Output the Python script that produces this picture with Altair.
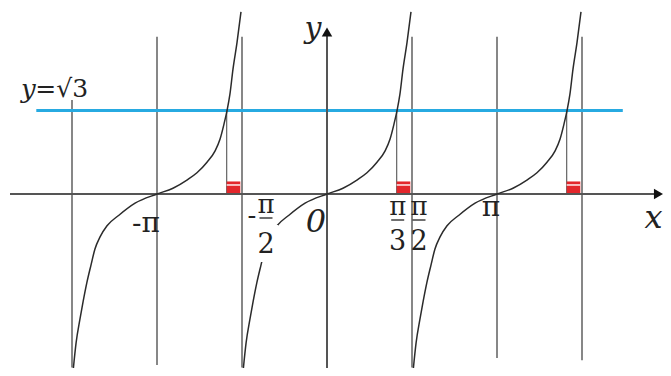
import altair as alt
import pandas as pd

# ---- data (x in units of pi, y in function units) ----
branch_centers = [-1, 0, 1]
branch_dx = [-0.494, -0.476, -0.453, -0.435, -0.412, -0.388, -0.365, -0.335, -0.294, -0.224, -0.129, 0.0,
             0.094, 0.176, 0.235, 0.294, 0.341, 0.371, 0.394, 0.412, 0.429, 0.447, 0.471, 0.494]
branch_y = [-3.69, -3.09, -2.59, -2.24, -1.83, -1.47, -1.14, -0.89, -0.66, -0.44, -0.19, 0.0,
            0.12, 0.29, 0.44, 0.66, 0.89, 1.14, 1.45, 1.73, 2.07, 2.59, 3.15, 3.78]
guide_x = [-1.5, -1, -0.5, 0.5, 1, 1.5]
guide_top = [1.95, 3.26, 3.26, 3.26, 3.26, 3.26]
guide_bottom = [-3.6, -3.55, -3.6, -3.6, -3.4, -3.45]
sqrt3 = 1.732
line_x_start, line_x_end = -1.71, 1.74
solution_x = [-0.59, 0.41, 1.41]
marker_width = 0.08
marker_height = 0.26

# ---- geometry (pixels) ----
W, H = 655, 360
PX_X = 170.0   # px per pi
PX_Y = 48.2    # px per unit
X0_PAGE, Y0_PAGE = 327 - 8, 194 - 8
x_dom = [-X0_PAGE / PX_X, (W - X0_PAGE) / PX_X]
y_dom = [-(H - Y0_PAGE) / PX_Y, Y0_PAGE / PX_Y]
xs = alt.Scale(domain=x_dom, nice=False, zero=False)
ys = alt.Scale(domain=y_dom, nice=False, zero=False)
FONT = "DejaVu Serif"
TXT = "#222222"


def X(f="x"):
    return alt.X(f"{f}:Q", scale=xs, axis=None)


def Y(f="y"):
    return alt.Y(f"{f}:Q", scale=ys, axis=None)


rows = []
for c in branch_centers:
    for i, (dx, y) in enumerate(zip(branch_dx, branch_y)):
        rows.append({"branch": str(c), "i": i, "x": c + dx, "y": y})
curve_df = pd.DataFrame(rows)

guides_df = pd.DataFrame({"x": guide_x, "y": guide_bottom, "y2": guide_top})
guides = alt.Chart(guides_df).mark_rule(color="#7a7a7a", strokeWidth=1.8).encode(
    x=X(), y=Y(), y2="y2:Q")

blue_df = pd.DataFrame({"x": [line_x_start], "x2": [line_x_end], "y": [sqrt3]})
blue = alt.Chart(blue_df).mark_rule(color="#27aae1", strokeWidth=3).encode(
    x=X(), x2="x2:Q", y=Y())

sol_df = pd.DataFrame({"x": solution_x, "y": [0] * 3, "y2": [sqrt3] * 3})
sol = alt.Chart(sol_df).mark_rule(color="#555555", strokeWidth=1.1).encode(
    x=X(), y=Y(), y2="y2:Q")

mk_df = pd.DataFrame({"x": solution_x, "x2": [s + marker_width for s in solution_x],
                      "y": [0] * 3, "y2": [marker_height] * 3,
                      "ys": [marker_height * 0.72] * 3})
marker = alt.Chart(mk_df).mark_rect(color="#e3262b").encode(
    x=X(), x2="x2:Q", y=Y(), y2="y2:Q")
stripe = alt.Chart(mk_df).mark_rule(color="#fbe3e3", strokeWidth=1.6).encode(
    x=X(), x2="x2:Q", y=Y("ys"))

xaxis_df = pd.DataFrame({"x": [x_dom[0] + 2 / PX_X], "x2": [1.94], "y": [0]})
xaxis = alt.Chart(xaxis_df).mark_rule(color="#555555", strokeWidth=2).encode(
    x=X(), x2="x2:Q", y=Y())
yaxis_df = pd.DataFrame({"x": [0], "y": [y_dom[0]], "y2": [3.3]})
yaxis = alt.Chart(yaxis_df).mark_rule(color="#555555", strokeWidth=2).encode(
    x=X(), y=Y(), y2="y2:Q")

curves = alt.Chart(curve_df).mark_line(color="#2b2b2b", strokeWidth=1.5, interpolate="monotone").encode(
    x=X(), y=Y(), detail="branch:N", order="i:Q")

# white backing under the -pi/2 label (the curve is interrupted there)
bg_df = pd.DataFrame({"x": [-0.5 + 16 / PX_X], "x2": [-0.5 + 36 / PX_X],
                      "y": [-31 / PX_Y], "y2": [-68 / PX_Y]})
bg = alt.Chart(bg_df).mark_rect(color="white").encode(x=X(), x2="x2:Q", y=Y(), y2="y2:Q")

arrows_df = pd.DataFrame({"x": [1.95, 0], "y": [0, 3.36]})
arrow_r = alt.Chart(arrows_df.iloc[[0]]).mark_point(shape="triangle-right", filled=True, size=110,
                                                   color="#111111", opacity=1).encode(x=X(), y=Y())
arrow_u = alt.Chart(arrows_df.iloc[[1]]).mark_point(shape="triangle-up", filled=True, size=110,
                                                   color="#111111", opacity=1).encode(x=X(), y=Y())


def label(text, x, y, dx=0, dy=0, size=30, italic=False, align="center"):
    df = pd.DataFrame({"x": [x], "y": [y], "t": [text]})
    return alt.Chart(df).mark_text(font=FONT, fontSize=size, color=TXT, align=align,
                                   baseline="alphabetic", dx=dx, dy=dy,
                                   fontStyle="italic" if italic else "normal").encode(
        x=X(), y=Y(), text="t:N")


def frac_bar(xc, dy_px, half=6.5):
    df = pd.DataFrame({"x": [xc - half / PX_X], "x2": [xc + half / PX_X], "y": [-dy_px / PX_Y]})
    return alt.Chart(df).mark_rule(color=TXT, strokeWidth=1.3).encode(x=X(), x2="x2:Q", y=Y())


labels = [
    label("-π", -1, 0, dx=-11, dy=38, size=28),
    label("0", 0, 0, dx=-11, dy=38, size=32, italic=True),
    label("π", 1, 0, dx=-6, dy=22, size=28),
    # -pi/2
    label("-", -0.5, 0, dx=10, dy=30, size=26),
    label("π", -0.5, 0, dx=24, dy=19, size=26),
    frac_bar(-0.5 + 24 / PX_X, 24),
    label("2", -0.5, 0, dx=24, dy=59, size=27),
    # pi/3
    label("π", 0.41, 0, dx=1, dy=21, size=26),
    frac_bar(0.41 + 1 / PX_X, 26),
    label("3", 0.41, 0, dx=1, dy=56, size=27),
    # pi/2
    label("π", 0.5, 0, dx=7, dy=21, size=26),
    frac_bar(0.5 + 7 / PX_X, 26),
    label("2", 0.5, 0, dx=7, dy=56, size=27),
    # axis names
    label("x", 1.95, 0, dx=4, dy=34, size=32, italic=True, align="right"),
    label("y", 0, 3.36, dx=-14, dy=6, size=30, italic=True),
    # y = sqrt(3)
    label("y", line_x_start, sqrt3, dx=-8, dy=-13, size=26, italic=True),
    label("=√3", line_x_start, sqrt3, dx=-1, dy=-14, size=25, align="left"),
]

chart = alt.layer(guides, blue, sol, marker, stripe, xaxis, yaxis, curves, bg,
                  *labels, arrow_r, arrow_u).properties(
    width=W, height=H, padding=0,
    autosize=alt.AutoSizeParams(type="none"),
).configure_view(stroke=None)

chart.save("out.html", embed_options={"renderer": "svg", "actions": False})
